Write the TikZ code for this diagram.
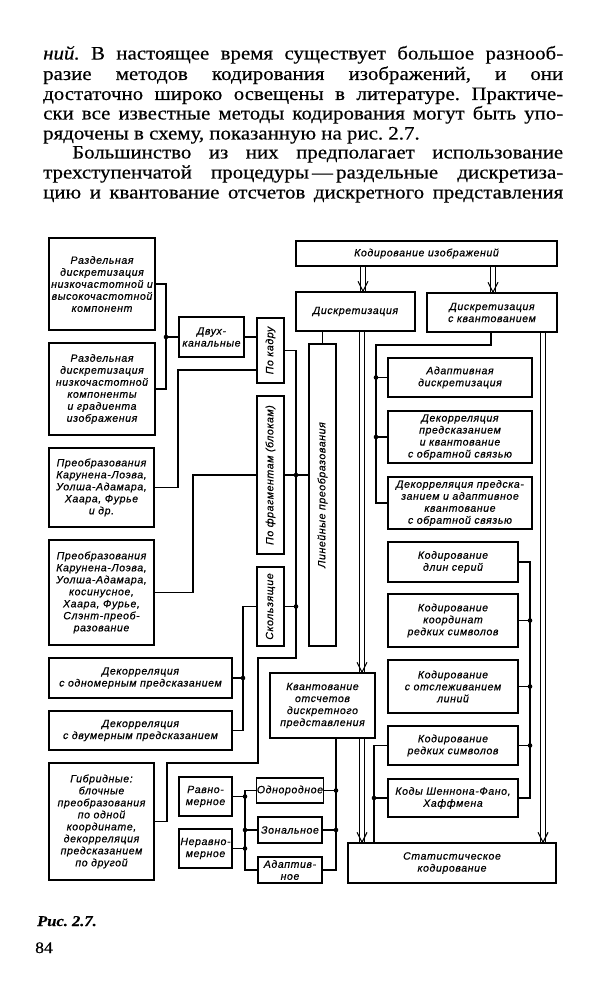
\documentclass[tikz,border=0pt]{standalone}
\usepackage{fontspec}
\usepackage{graphicx}
\setmainfont{Liberation Serif}[FakeStretch=1.1,FakeBold=0.4]
\newfontfamily\dfam{Liberation Sans}[LetterSpace=6,FakeBold=0.6]
\usetikzlibrary{calc}
\frenchspacing
\newcommand\dfont{\dfam\itshape\fontsize{10.5}{12}\selectfont}
\newcommand\bx[6]{\node[box, minimum width={(#4)-(#2)}, minimum height={(#5)-(#3)}] (#1) at ({((#2)+(#4))/2},{((#3)+(#5))/2}) {#6};}
\newcommand\darr[3]{%
  \path (#2.south -| #1,0) coordinate (da) (#3.north -| #1,0) coordinate (db);
  \draw[dl] ($(da)+(-2.3,0)$) -- ($(db)+(-2.3,0)$) ($(da)+(2.3,0)$) -- ($(db)+(2.3,0)$);
  \draw[dl] ($(db)+(-5,-10)$) -- (db) -- ($(db)+(5,-10)$);}
\newcommand\jd[2]{\fill (#1,#2) circle (2.3pt);}
\tikzset{
  box/.style={draw, line width=1.5pt, inner sep=0.5pt, align=center, font=\dfont},
  ln/.style={line width=1.3pt},
  dl/.style={line width=1.1pt},
  body/.style={anchor=base west, inner sep=0pt, font=\fontsize{19}{20}\selectfont},
}
\begin{document}
\begin{tikzpicture}[x=1pt,y=-1pt]
\fill[white] (0,0) rectangle (605,1000);
\useasboundingbox (0,0) rectangle (605,1000);

% body text
\node[body] (t1) at (43,59.5) {\makebox[520pt][s]{\textit{ний.} В настоящее время существует большое разнооб-}};
\node[body] (t2) at (43,80) {\makebox[520pt][s]{разие методов кодирования изображений, и они}};
\node[body] (t3) at (43,100) {\makebox[520pt][s]{достаточно широко освещены в литературе. Практиче-}};
\node[body] (t4) at (43,119.5) {\makebox[520pt][s]{ски все известные методы кодирования могут быть упо-}};
\node[body] (t5) at (43,139.5) {рядочены в схему, показанную на рис. 2.7.};
\node[body] (t6) at (72,158.5) {\makebox[491pt][s]{Большинство из них предполагает использование}};
\node[body] (t7) at (43,178.5) {\makebox[520pt][s]{трехступенчатой процедуры\,—\,раздельные дискретиза-}};
\node[body] (t8) at (43,198.5) {\makebox[520pt][s]{цию и квантование отсчетов дискретного представления}};

% boxes
\bx{b1}{49}{238}{155}{330}{Раздельная\\дискретизация\\низкочастотной и\\высокочастотной\\компонент}
\bx{b2}{49}{343}{155}{435}{Раздельная\\дискретизация\\низкочастотной\\компоненты\\и градиента\\изображения}
\bx{b3}{49}{448}{154}{527}{Преобразования\\Карунена-Лоэва,\\Уолша-Адамара,\\Хаара, Фурье\\и др.}
\bx{b4}{49}{540}{154}{645}{Преобразования\\Карунена-Лоэва,\\Уолша-Адамара,\\косинусное,\\Хаара, Фурье,\\Слэнт-преоб-\\разование}
\bx{b5}{49}{658}{232}{698}{Декорреляция\\с одномерным предсказанием}
\bx{b6}{49}{711}{232}{750}{Декорреляция\\с двумерным предсказанием}
\bx{b7}{49}{763}{154}{880}{Гибридные:\\блочные\\преобразования\\по одной\\координате,\\декорреляция\\предсказанием\\по другой}
\bx{dvk}{179}{317}{244}{357}{Двух-\\канальные}
\bx{pk}{257}{318}{284}{383}{\rotatebox{90}{По кадру}}
\bx{pf}{257}{396}{284}{554}{\rotatebox{90}{По фрагментам (блокам)}}
\bx{sk}{257}{567}{284}{646}{\rotatebox{90}{Скользящие}}
\bx{lin}{309}{344}{336}{646}{\rotatebox{90}{Линейные преобразования}}
\bx{kod}{296}{241}{557}{266}{Кодирование изображений}
\bx{disk}{296}{292}{415}{331}{Дискретизация}
\bx{dkv}{427}{293}{557}{332}{Дискретизация\\с квантованием}
\bx{ad}{388}{358}{532}{397}{Адаптивная\\дискретизация}
\bx{dq}{388}{411}{532}{463}{Декорреляция\\предсказанием\\и квантование\\с обратной связью}
\bx{dqa}{388}{477}{532}{529}{Декорреляция предска-\\занием и адаптивное\\квантование\\с обратной связью}
\bx{kv}{270}{673}{375}{738}{Квантование\\отсчетов\\дискретного\\представления}
\bx{rav}{179}{777}{232}{816}{Равно-\\мерное}
\bx{nerav}{179}{829}{232}{868}{Неравно-\\мерное}
\bx{odn}{258}{778}{322}{803}{Однородное}
\bx{zon}{258}{817}{322}{843}{Зональное}
\bx{adp}{258}{857}{322}{883}{Адаптив-\\ное}
\bx{kds}{388}{542}{518}{582}{Кодирование\\длин серий}
\bx{kkr}{388}{594}{518}{647}{Кодирование\\координат\\редких символов}
\bx{kol}{388}{660}{518}{713}{Кодирование\\с отслеживанием\\линий}
\bx{krs}{388}{726}{518}{765}{Кодирование\\редких символов}
\bx{shf}{388}{779}{518}{817}{Коды Шеннона-Фано,\\Хаффмена}
\bx{stat}{348}{843}{556}{883}{Статистическое\\кодирование}

% left tree connectors
\draw[ln] (b1.east) -| (166,337) -- (dvk.west);
\draw[ln] (b2.east) -| (166,337);
\jd{166}{337}
\draw[ln] (dvk.east) -- (pk.west |- dvk.east);
\draw[ln] (b3.east) -| (178,370) -- (pk.west |- 0,370);
\draw[ln] (pk.east) -| (296,658) -| (258,763) -| (167,821.5) -- (b7.east);
\draw[ln] (pf.east) -- (lin.west |- pf.east);
\jd{296}{475}
\draw[ln] (b4.east) -| (193,475) -- (pf.west);
\draw[ln] (sk.east) -- (296,606.5);
\jd{296}{606.5}
\draw[ln] (sk.west) -| (243,730.5) -- (b6.east);
\draw[ln] (b5.east) -- (243,678);
\jd{243}{678}
\draw[ln] (lin.north) -- (lin.north |- disk.south);

% double arrows
\darr{363}{kod}{disk}
\darr{493}{kod}{dkv}
\darr{362}{disk}{kv}
\darr{362}{kv}{stat}
\darr{543}{dkv}{stat}

% right-hand groups
\draw[ln] (dkv.south -| 491,0) -- (491,345) -| (376,503) -- (dqa.west);
\draw[ln] (ad.west) -- (376,377.5);
\jd{376}{377.5}
\draw[ln] (dq.west) -- (376,437);
\jd{376}{437}
\draw[ln] (kds.east) -| (530,798) -- (shf.east);
\draw[ln] (kkr.east) -- (530,620.5);
\jd{530}{620.5}
\draw[ln] (kol.east) -- (530,686.5);
\jd{530}{686.5}
\draw[ln] (krs.east) -- (530,745.5);
\jd{530}{745.5}
\draw[ln] (krs.west) -| (stat.north -| 374,0);
\draw[ln] (shf.west) -- (374,798);
\jd{374}{798}

% quantization types
\draw[ln] (kv.south -| 336,0) -- (336,870) -- (adp.east);
\draw[ln] (odn.east) -- (336,790.5);
\jd{336}{790.5}
\draw[ln] (zon.east) -- (336,830);
\jd{336}{830}
\draw[ln] (odn.west) -| (245,870) -- (adp.west);
\draw[ln] (rav.east) -- (245,796.5);
\jd{245}{796.5}
\draw[ln] (zon.west) -- (245,830);
\jd{245}{830}
\draw[ln] (nerav.east) -- (245,848.5);
\jd{245}{848.5}

% caption
\node[anchor=base west, inner sep=0pt, font=\fontsize{15}{16}\selectfont\bfseries\itshape] (cap) at (37,926) {Рис. 2.7.};
\node[anchor=base west, inner sep=0pt, font=\fontsize{16}{17}\selectfont] (pg) at (35,953) {84};
\end{tikzpicture}
\end{document}
